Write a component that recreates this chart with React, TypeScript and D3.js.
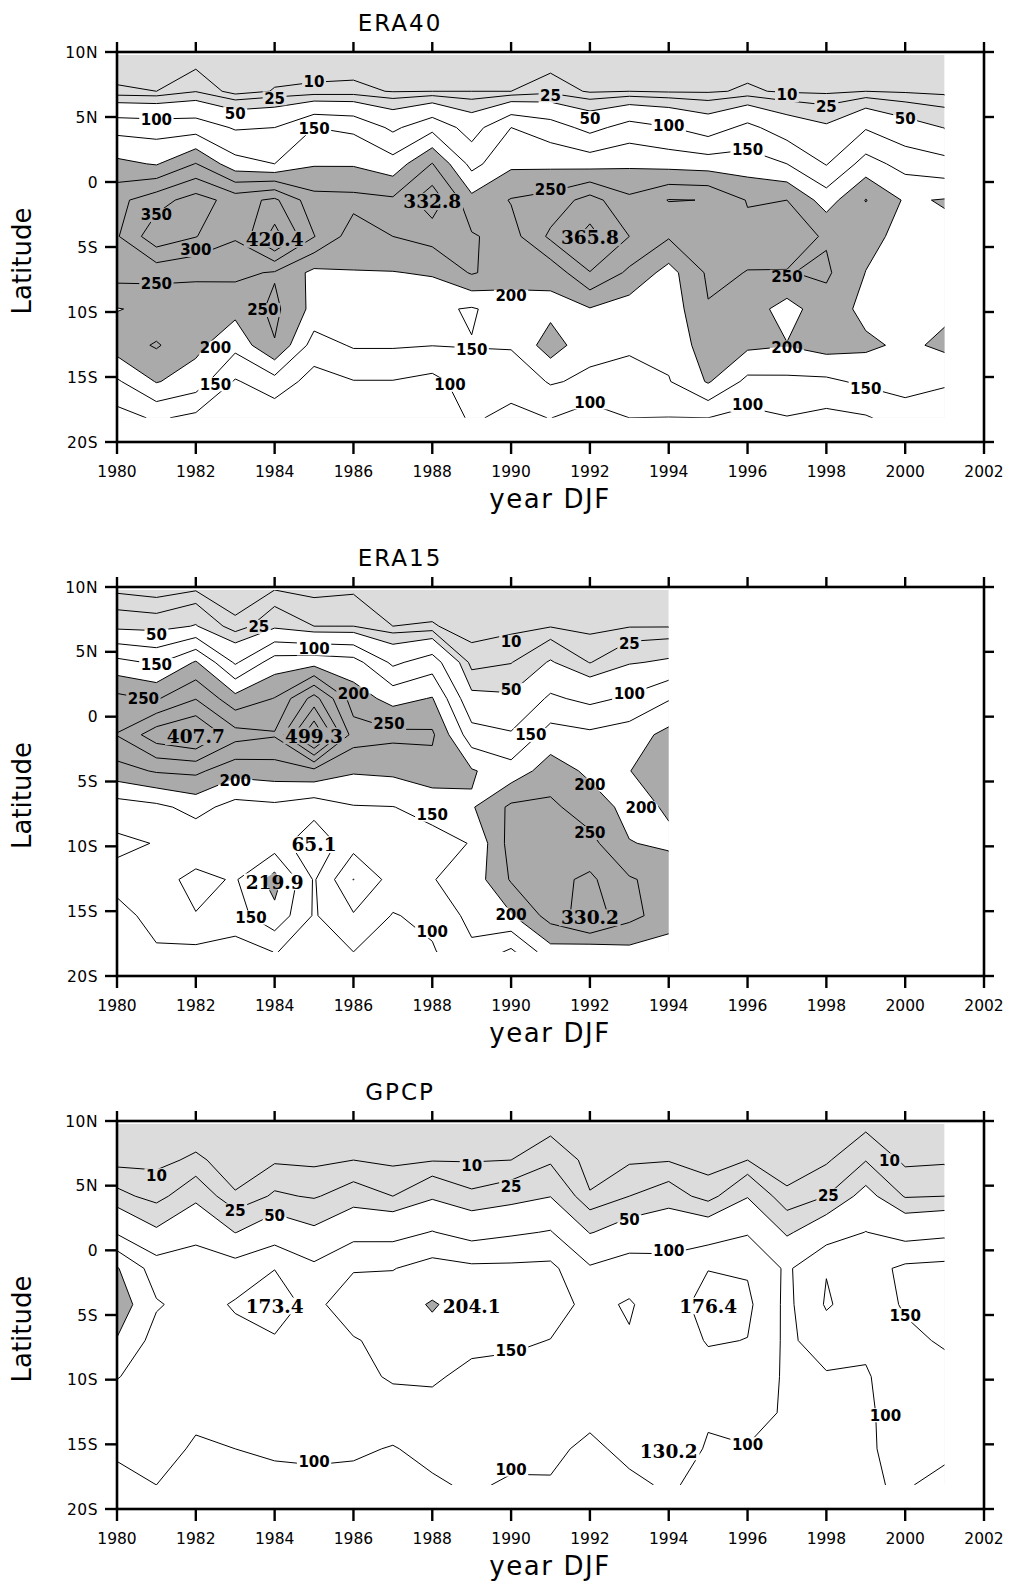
import React from 'react';
import * as d3 from 'd3';

// Gaussian-grid latitudes of the rows (top to bottom)
const LATS = [9.77, 6.98, 4.19, 1.4, -1.4, -4.19, -6.98, -9.77, -12.56, -15.35, -18.14];
const YEARS_FULL = [1980, 1981, 1982, 1983, 1984, 1985, 1986, 1987, 1988, 1989, 1990, 1991, 1992, 1993, 1994, 1995, 1996, 1997, 1998, 1999, 2000, 2001];
const YEARS_ERA15 = [1980, 1981, 1982, 1983, 1984, 1985, 1986, 1987, 1988, 1989, 1990, 1991, 1992, 1993, 1994];
const LEVELS = [10, 25, 50, 100, 150, 200, 250, 300, 350, 400, 450];
const X_TICKS = [1980, 1982, 1984, 1986, 1988, 1990, 1992, 1994, 1996, 1998, 2000, 2002];
const Y_TICKS = [10, 5, 0, -5, -10, -15, -20];
const Y_TICK_LABELS = ['10N', '5N', '0', '5S', '10S', '15S', '20S'];

// values per year column, rows = LATS (mm)
const ERA40 = [
  [1, 12, 133, 212, 286, 295, 271, 198, 225, 143, 80],
  [2, 10, 128, 196, 330, 384, 268, 210, 255, 203, 107],
  [1, 24, 127, 252, 372, 352, 255, 235, 213, 177, 87],
  [1, 3, 95, 168, 330, 305, 262, 215, 165, 95, 70],
  [2, 11, 100, 150, 360, 420.4, 245, 262, 247, 130, 66],
  [1, 13, 150, 195, 268, 302, 187, 184, 128, 80, 70],
  [1, 14, 140, 195, 265, 225, 198, 175, 155, 98, 80],
  [2, 9, 90, 170, 258, 250, 198, 180, 155, 98, 85],
  [2, 10, 135, 252, 332.8, 268, 205, 160, 151, 85, 75],
  [2, 10, 78, 134, 215, 255, 255, 145, 152, 125, 105],
  [2, 10, 150, 190, 253, 230, 222, 175, 155, 115, 90],
  [1, 19, 123, 188, 269, 310, 215, 185, 225, 155, 101],
  [2, 8, 85, 180, 320, 365.8, 298, 197, 165, 140, 75],
  [2, 10, 119, 191, 261, 300, 240, 175, 160, 125, 100],
  [2, 8, 102, 182, 302, 255, 181, 170, 165, 147, 99],
  [2, 8, 75, 176, 299, 270, 258, 247, 225, 205, 100],
  [3, 12, 113, 173, 247, 262, 249, 225, 210, 137, 85],
  [2, 8, 73, 150, 250, 270, 248, 180, 202, 139, 98],
  [2, 7, 55, 97, 177, 245, 258, 230, 220, 140, 86],
  [3, 10, 96, 170, 252, 215, 199, 185, 210, 160, 95],
  [2, 8, 66, 132, 194, 185, 175, 180, 190, 170, 125],
  [2, 6, 49, 115, 203, 190, 180, 190, 210, 160, 100],
];

const ERA15 = [
  [7, 40, 164, 264, 302, 230, 125, 90, 115, 85, 70],
  [3, 37, 143, 245, 380, 255, 138, 102, 130, 115, 95],
  [9, 52, 205, 298, 407.7, 261, 167, 114, 165, 148, 88],
  [3, 13, 93, 217, 320, 217, 132, 120, 145, 130, 77],
  [10, 43, 174, 252, 305, 225, 139, 123, 219.9, 185, 101],
  [6, 25, 180, 370, 499.3, 235, 120, 65.1, 95, 95, 90],
  [8, 25, 170, 225, 275, 205, 147, 130, 201, 145, 100],
  [3, 10, 90, 183, 262, 210, 149, 140, 130, 97, 85],
  [3, 11, 125, 203, 258, 231, 165, 135, 148, 112, 95],
  [1, 5, 16, 60, 120, 205, 195, 152, 170, 165, 140],
  [2, 6, 24, 55, 105, 170, 260, 270, 255, 195, 90],
  [2, 9, 53, 108, 170, 225, 260, 280, 285, 270, 180],
  [1, 6, 24, 88, 160, 190, 225, 265, 310, 330.2, 165],
  [2, 9, 47, 107, 175, 199, 185, 202, 255, 265, 185],
  [2, 9, 55, 146, 215, 225, 205, 192, 230, 225, 175],
];

const GPCP = [
  [2, 5, 31, 94, 204, 230, 197, 152, 125, 108, 85],
  [2, 7, 18, 55, 125, 155, 131, 130, 125, 115, 100],
  [3, 12, 41, 89, 120, 130, 128, 120, 108, 95, 90],
  [2, 5, 11, 49, 120, 155, 135, 120, 108, 100, 85],
  [2, 8, 28, 73, 149, 173.4, 145, 125, 115, 105, 90],
  [2, 7, 23, 56, 110, 134, 130, 120, 112, 104, 95],
  [3, 10, 35, 84, 145, 187, 145, 130, 118, 105, 90],
  [2, 7, 25, 83, 148, 180, 170, 158, 118, 98, 85],
  [3, 9, 45, 102, 170, 204.1, 185, 158, 130, 110, 95],
  [2, 9, 29, 81, 160, 180, 165, 135, 120, 110, 105],
  [3, 10, 37, 93, 160, 178, 158, 135, 120, 112, 95],
  [4, 22, 49, 103, 162, 170, 149, 130, 118, 108, 97],
  [2, 5, 11, 48, 105, 137, 130, 120, 110, 92, 85],
  [2, 8, 25, 67, 124, 155, 146, 130, 118, 110, 92],
  [2, 9, 36, 78, 115, 118, 120, 115, 120, 130.2, 105],
  [2, 5, 17, 74, 148, 176.4, 154, 130, 106, 95, 88],
  [3, 10, 48, 96, 145, 160, 149, 130, 115, 98, 90],
  [2, 5, 12, 45, 92, 88, 90, 93, 95, 92, 90],
  [2, 8, 25, 74, 148, 155, 125, 95, 93, 94, 95],
  [6, 24, 61, 101, 130, 125, 108, 96, 95, 96, 97],
  [2, 7, 23, 80, 160, 155, 140, 125, 115, 110, 103],
  [2, 8, 25, 88, 165, 175, 155, 135, 118, 108, 90],
];

// contour labels: [year, lat, text]
const ERA40_LINE_LABELS: [number, number, string][] = [
  [1985.0, 7.72, '10'], [1984.0, 6.44, '25'], [1983.0, 5.28, '50'], [1981.0, 4.77, '100'],
  [1985.0, 4.13, '150'], [1981.0, -2.54, '350'], [1982.0, -5.23, '300'], [1981.0, -7.85, '250'],
  [1983.7, -9.85, '250'], [1982.5, -12.74, '200'], [1982.5, -15.56, '150'],
  [1991.0, 6.62, '25'], [1992.0, 4.9, '50'], [1994.0, 4.31, '100'], [1991.0, -0.62, '250'],
  [1990.0, -8.77, '200'], [1989.0, -12.92, '150'], [1988.45, -15.6, '100'], [1992.0, -16.95, '100'],
  [1997.0, 6.69, '10'], [1998.0, 5.79, '25'], [2000.0, 4.9, '50'], [1996.0, 2.46, '150'],
  [1997.0, -7.28, '250'], [1997.0, -12.74, '200'], [1999.0, -15.87, '150'], [1996.0, -17.15, '100'],
];
const ERA40_EXTREMES: [number, number, string][] = [
  [1984.0, -4.41, '420.4'], [1988.0, -1.51, '332.8'], [1992.0, -4.26, '365.8'],
];

const ERA15_LINE_LABELS: [number, number, string][] = [
  [1983.6, 6.92, '25'], [1981.0, 6.36, '50'], [1985.0, 5.26, '100'], [1981.0, 3.98, '150'],
  [1980.67, 1.41, '250'], [1986.0, 1.8, '200'], [1983.0, -4.92, '200'], [1983.4, -15.5, '150'],
  [1986.9, -0.5, '250'], [1990.0, 5.77, '10'], [1993.0, 5.64, '25'], [1990.0, 2.05, '50'],
  [1993.0, 1.8, '100'], [1990.5, -1.41, '150'], [1992.0, -5.25, '200'], [1993.3, -7.05, '200'],
  [1992.0, -8.97, '250'], [1988.0, -7.56, '150'], [1990.0, -15.25, '200'], [1988.0, -16.54, '100'],
];
const ERA15_EXTREMES: [number, number, string][] = [
  [1982.0, -1.54, '407.7'], [1985.0, -1.48, '499.3'], [1985.0, -9.87, '65.1'],
  [1984.0, -12.74, '219.9'], [1992.0, -15.51, '330.2'],
];

const GPCP_LINE_LABELS: [number, number, string][] = [
  [1981.0, 5.8, '10'], [1983.0, 3.09, '25'], [1984.0, 2.7, '50'], [1985.0, -16.36, '100'],
  [1989.0, 6.57, '10'], [1990.0, 4.95, '25'], [1993.0, 2.37, '50'], [1994.0, 0.0, '100'],
  [1990.0, -7.73, '150'], [1990.0, -16.95, '100'], [1999.6, 6.96, '10'], [1998.05, 4.25, '25'],
  [2000.0, -5.02, '150'], [1999.5, -12.75, '100'], [1996.0, -14.99, '100'],
];
const GPCP_EXTREMES: [number, number, string][] = [
  [1984.0, -4.3, '173.4'], [1989.0, -4.33, '204.1'], [1995.0, -4.3, '176.4'], [1994.0, -15.58, '130.2'],
];

const LINE_FONT = 15;
const EXT_FONT = 18.5;

function textWidth(t: string, fs: number) {
  let w = 0;
  for (const c of t) w += c === '.' ? 0.38 : 0.696;
  return w * fs;
}

type PanelProps = {
  id: string;
  title: string;
  top: number;
  bottom: number;
  years: number[];
  grid: number[][];
  lineLabels: [number, number, string][];
  extremes: [number, number, string][];
};

function Panel({ id, title, top, bottom, years, grid, lineLabels, extremes }: PanelProps) {
  const left = 117;
  const right = 984;
  const x = d3.scaleLinear().domain([1980, 2002]).range([left, right]);
  const y = d3.scaleLinear().domain([10, -20]).range([top, bottom]);
  const n = years.length;
  const m = LATS.length;
  const values: number[] = new Array(n * m);
  for (let j = 0; j < m; j++) for (let i = 0; i < n; i++) values[j * n + i] = grid[i][j];
  const contours = d3.contours().size([n, m]).thresholds(LEVELS)(values);
  const dLat = (LATS[m - 1] - LATS[0]) / (m - 1);
  const px = (gx: number) => x(years[0] + (gx - 0.5));
  const py = (gy: number) => y(LATS[0] + (gy - 0.5) * dLat);
  const toPath = (geom: any) =>
    geom.coordinates
      .map((poly: number[][][]) =>
        poly
          .map((ring) => 'M' + ring.map((p) => `${px(p[0]).toFixed(2)},${py(p[1]).toFixed(2)}`).join('L') + 'Z')
          .join('')
      )
      .join('');
  const byLevel = (v: number) => contours.find((c) => c.value === v)!;

  const dx0 = x(years[0]);
  const dx1 = x(years[n - 1]);
  const dy0 = y(LATS[0]);
  const dy1 = y(LATS[m - 1]);

  const maskRects = [
    ...lineLabels.map(([yr, lat, t]) => {
      const w = textWidth(t, LINE_FONT) + 3;
      const h = LINE_FONT * 0.8 + 2;
      return { cx: x(yr), cy: y(lat), w, h };
    }),
    ...extremes.map(([yr, lat, t]) => {
      const w = textWidth(t, EXT_FONT) + 3;
      const h = EXT_FONT * 0.8 + 2;
      return { cx: x(yr), cy: y(lat), w, h };
    }),
  ];

  return (
    <g>
      <defs>
        <clipPath id={`${id}-clip`}>
          <rect x={dx0} y={dy0} width={dx1 - dx0} height={dy1 - dy0} />
        </clipPath>
        <mask id={`${id}-mask`} maskUnits="userSpaceOnUse" x={0} y={0} width={1010} height={1585}>
          <rect x={0} y={0} width={1010} height={1585} fill="#fff" />
          {maskRects.map((r, k) => (
            <rect key={k} x={r.cx - r.w / 2} y={r.cy - r.h / 2} width={r.w} height={r.h} fill="#000" />
          ))}
        </mask>
      </defs>
      <g clipPath={`url(#${id}-clip)`}>
        <rect x={dx0} y={dy0} width={dx1 - dx0} height={dy1 - dy0} fill="#dcdcdc" />
        <path d={toPath(byLevel(50))} fill="#ffffff" fillRule="evenodd" />
        <path d={toPath(byLevel(200))} fill="#aaaaaa" fillRule="evenodd" />
      </g>
      <g clipPath={`url(#${id}-clip)`}>
        <g mask={`url(#${id}-mask)`}>
          {contours.map((c) => (
            <path key={c.value} d={toPath(c)} fill="none" stroke="#000" strokeWidth={1} strokeLinejoin="round" />
          ))}
        </g>
      </g>
      {lineLabels.map(([yr, lat, t], k) => (
        <text
          key={`l${k}`}
          x={x(yr)}
          y={y(lat)}
          dy="0.36em"
          textAnchor="middle"
          fontFamily="DejaVu Sans"
          fontWeight="bold"
          fontSize={LINE_FONT}
          fill="#000"
        >
          {t}
        </text>
      ))}
      {extremes.map(([yr, lat, t], k) => (
        <text
          key={`e${k}`}
          x={x(yr)}
          y={y(lat)}
          dy="0.36em"
          textAnchor="middle"
          fontFamily="DejaVu Serif"
          fontWeight="bold"
          fontSize={EXT_FONT}
          fill="#000"
        >
          {t}
        </text>
      ))}
      {/* frame */}
      <rect x={left} y={top} width={right - left} height={bottom - top} fill="none" stroke="#000" strokeWidth={2.6} />
      {X_TICKS.map((t) => (
        <g key={`xt${t}`}>
          <line x1={x(t)} x2={x(t)} y1={bottom} y2={bottom + 12} stroke="#000" strokeWidth={2.4} />
          <line x1={x(t)} x2={x(t)} y1={top} y2={top - 10} stroke="#000" strokeWidth={2.4} />
          <text x={x(t)} y={bottom + 35} textAnchor="middle" fontFamily="DejaVu Sans" fontSize={15.5} fill="#000">
            {t}
          </text>
        </g>
      ))}
      {Y_TICKS.map((t, k) => (
        <g key={`yt${t}`}>
          <line x1={left - 12} x2={left} y1={y(t)} y2={y(t)} stroke="#000" strokeWidth={2.4} />
          <line x1={right} x2={right + 10} y1={y(t)} y2={y(t)} stroke="#000" strokeWidth={2.4} />
          <text
            x={98}
            y={y(t) + 5.6}
            textAnchor="end"
            fontFamily="DejaVu Sans"
            fontSize={15.5}
            fill="#000"
            letterSpacing={0.5}
          >
            {Y_TICK_LABELS[k]}
          </text>
        </g>
      ))}
      <text x={400} y={top - 21} textAnchor="middle" fontFamily="DejaVu Sans" fontSize={23} letterSpacing={2} fill="#000">
        {title}
      </text>
      <text
        x={550}
        y={bottom + 66}
        textAnchor="middle"
        fontFamily="DejaVu Sans"
        fontSize={26}
        letterSpacing={1.6}
        fill="#000"
      >
        year DJF
      </text>
      <text
        transform={`translate(31,${(top + bottom) / 2 + 14}) rotate(-90)`}
        textAnchor="middle"
        fontFamily="DejaVu Sans"
        fontSize={26}
        fill="#000"
      >
        Latitude
      </text>
    </g>
  );
}

export default function App() {
  return (
    <svg
      width={1010}
      height={1585}
      viewBox="0 0 1010 1585"
      style={{ position: 'absolute', left: 0, top: 0, display: 'block', background: '#fff' }}
    >
      <rect x={0} y={0} width={1010} height={1585} fill="#fff" />
      <Panel
        id="p1"
        title="ERA40"
        top={52}
        bottom={442}
        years={YEARS_FULL}
        grid={ERA40}
        lineLabels={ERA40_LINE_LABELS}
        extremes={ERA40_EXTREMES}
      />
      <Panel
        id="p2"
        title="ERA15"
        top={587}
        bottom={976}
        years={YEARS_ERA15}
        grid={ERA15}
        lineLabels={ERA15_LINE_LABELS}
        extremes={ERA15_EXTREMES}
      />
      <Panel
        id="p3"
        title="GPCP"
        top={1121}
        bottom={1509}
        years={YEARS_FULL}
        grid={GPCP}
        lineLabels={GPCP_LINE_LABELS}
        extremes={GPCP_EXTREMES}
      />
    </svg>
  );
}
